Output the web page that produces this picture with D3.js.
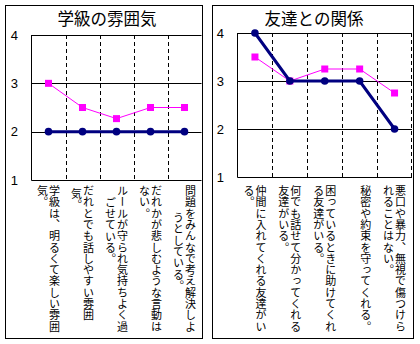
<!DOCTYPE html>
<html><head><meta charset="utf-8">
<script src="https://cdn.jsdelivr.net/npm/d3@7"></script>
<style>body{margin:0;background:#fff}</style>
</head><body>
<svg id="chart" width="420" height="344"></svg>
<script>
// ---- data ----
const titles = ["学級の雰囲気", "友達との関係"];
const leftLabels = [
  ["学級は、明るくて楽しい雰囲", "気。"],
  ["だれとでも話しやすい雰囲", "気。"],
  ["ルールが守られ気持ちよく過", "ごせている。"],
  ["だれかが悲しむような言動は", "ない。"],
  ["問題をみんなで考え解決しよ", "うとしている。"]
];
const rightLabels = [
  ["仲間に入れてくれる友達がい", "る。"],
  ["何でも話せて分かってくれる", "友達がいる。"],
  ["困っているときに助けてくれ", "る友達がいる。"],
  ["秘密や約束を守ってくれる。"],
  ["悪口や暴力、無視で傷つけら", "れることはない。"]
];
const leftNavy  = [2, 2, 2, 2, 2];
const leftPink  = [3, 2.5, 2.27, 2.5, 2.5];
const rightNavy = [4, 3, 3, 3, 2];
const rightPink = [3.5, 3, 3.25, 3.25, 2.75];
const yTicks = [1, 2, 3, 4];

// ---- layout (positions/styles only) ----
const panels = [
  {title: titles[0], labels: leftLabels, navy: leftNavy, pink: leftPink,
   box: [5.5, 5.5, 197, 333], px0: 31.5, px1: 201.5, py0: 35, py1: 180,
   titleX: 107, tickX: 18, shifts: [[0,0],[0,3],[0,11.5],[0,0],[0,27]], rightDash: false},
  {title: titles[1], labels: rightLabels, navy: rightNavy, pink: rightPink,
   box: [212.5, 5.5, 201, 333], px0: 237.5, px1: 412, py0: 33, py1: 177,
   titleX: 314, tickX: 224, shifts: [[0,0],[0,0],[0,0],[0],[0,0]], rightDash: true}
];
const NAVY = "#000080", PINK = "#FF00FF";
const JP = "'Noto Sans CJK JP','Noto Sans CJK SC',sans-serif";

const svg = d3.select("#chart");

panels.forEach(p => {
  const g = svg.append("g");
  // panel border
  g.append("rect").attr("x", p.box[0]).attr("y", p.box[1])
    .attr("width", p.box[2]).attr("height", p.box[3])
    .attr("fill", "#fff").attr("stroke", "#000").attr("stroke-width", 1);

  const idx = d3.range(p.labels.length);
  const x = d3.scaleBand().domain(idx).range([p.px0, p.px1]).padding(0);
  const y = d3.scaleLinear().domain([1, 4]).range([p.py1, p.py0]);
  const cx = i => x(i) + x.bandwidth() / 2;

  // title
  g.append("text").attr("x", p.titleX).attr("y", 17.5)
    .attr("text-anchor", "middle").attr("dominant-baseline", "central")
    .attr("font-family", JP).attr("font-size", 16.5).attr("fill", "#000")
    .text(p.title);

  // horizontal gridlines (solid)
  g.selectAll(".hg").data(yTicks).join("line")
    .attr("x1", p.px0).attr("x2", p.px1)
    .attr("y1", d => Math.round(y(d)) + 0.5).attr("y2", d => Math.round(y(d)) + 0.5)
    .attr("stroke", "#000").attr("stroke-width", 1);

  // vertical dashed gridlines at category boundaries
  const bounds = idx.slice(1).map(i => x(i));
  if (p.rightDash) bounds.push(p.px1 - 1);
  g.selectAll(".vg").data(bounds).join("line")
    .attr("x1", d => Math.round(d) + 0.5).attr("x2", d => Math.round(d) + 0.5)
    .attr("y1", p.py0).attr("y2", p.py1)
    .attr("stroke", "#000").attr("stroke-width", 1).attr("stroke-dasharray", "4,3");

  // left plot border
  g.append("line").attr("x1", p.px0).attr("x2", p.px0)
    .attr("y1", p.py0).attr("y2", p.py1 + 0.5)
    .attr("stroke", "#000").attr("stroke-width", 1);

  // y tick labels
  g.selectAll(".yt").data(yTicks).join("text")
    .attr("x", p.tickX).attr("y", d => y(d))
    .attr("text-anchor", "end").attr("dominant-baseline", "central")
    .attr("font-family", "'Liberation Sans',Arial,sans-serif").attr("font-size", 13)
    .attr("fill", "#000").text(d => d);

  // pink series (thin line + squares)
  const line = d3.line().x((d, i) => cx(i)).y(d => y(d));
  g.append("path").datum(p.pink).attr("d", line)
    .attr("fill", "none").attr("stroke", PINK).attr("stroke-width", 1);
  g.selectAll(".pk").data(p.pink).join("rect")
    .attr("x", (d, i) => cx(i) - 3.5).attr("y", d => y(d) - 3.5)
    .attr("width", 7).attr("height", 7).attr("fill", PINK);

  // navy series (thick line + circles)
  g.append("path").datum(p.navy).attr("d", line)
    .attr("fill", "none").attr("stroke", NAVY).attr("stroke-width", 3);
  g.selectAll(".nv").data(p.navy).join("circle")
    .attr("cx", (d, i) => cx(i)).attr("cy", d => y(d)).attr("r", 3.8)
    .attr("fill", NAVY);

  // vertical category labels
  p.labels.forEach((cols, i) => {
    cols.forEach((str, j) => {
      g.append("text")
        .attr("x", cx(i) + 6 - j * 12)
        .attr("y", 185.5 + (p.shifts[i][j] || 0))
        .style("writing-mode", "vertical-rl")
        .attr("font-family", JP).attr("font-size", 11)
        .attr("letter-spacing", 0.28)
        .attr("fill", "#000")
        .text(str);
    });
  });
});
</script>
</body></html>
